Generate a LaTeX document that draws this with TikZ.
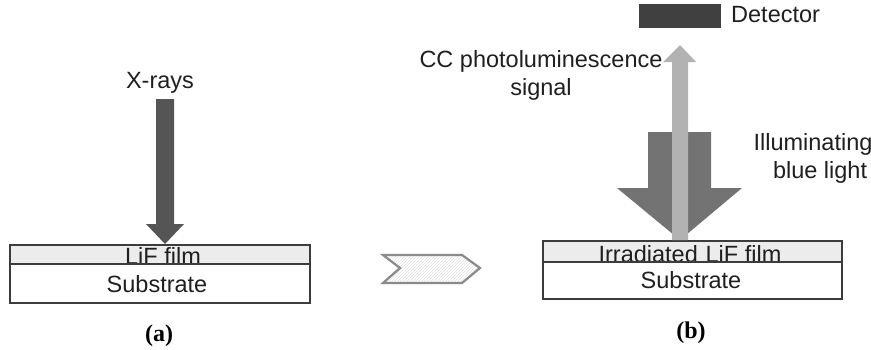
\documentclass[tikz,border=0pt]{standalone}
\usepackage{fontspec}
\setmainfont{Liberation Sans}
\newfontfamily\capfont{Liberation Serif}
\usetikzlibrary{patterns}
\definecolor{filmgray}{HTML}{ECECEC}
\definecolor{edgegray}{HTML}{3C3C3C}
\definecolor{xraygray}{HTML}{555555}
\definecolor{lightbeam}{HTML}{B2B2B2}
\definecolor{bluebeam}{HTML}{737373}
\definecolor{detgray}{HTML}{404040}
\definecolor{chevgray}{HTML}{8A8A8A}
\tikzset{
  lbl/.style={inner sep=0pt, anchor=base, font=\fontsize{23.5}{28}\selectfont, text=black!88},
  caplbl/.style={inner sep=0pt, anchor=base, font=\capfont\bfseries\fontsize{24}{26}\selectfont},
  layer/.style={draw=edgegray, line width=1.4pt},
  interface/.style={draw=edgegray, line width=2.6pt},
}
\begin{document}
\begin{tikzpicture}[x=1pt, y=-1pt]
\useasboundingbox (0,0) rectangle (871,349);

% ---------- (a) exposure ----------
\fill[filmgray] (10,245) rectangle (310,264);
\node[lbl] (filmA) at (163,264) {LiF film};
\node[lbl] (subA) at (157,292) {Substrate};
\draw[layer] (10,245) rectangle (310,303);
\draw[interface] (10,264) -- (310,264);

\node[lbl] (xray) at (160,88) {X-rays};
\fill[xraygray] (156,99) -- (174,99) -- (174,224) -- (184,224) -- (165,244)
  -- (146,224) -- (156,224) -- cycle;

\node[caplbl] (capA) at (159,341) {(a)};

% ---------- transition chevron ----------
\coordinate (chev) at (430,268);
\fill[pattern=north east lines, pattern color=black!12]
  (383,255) -- (462,255) -- (480,268) -- (462,283) -- (383,283) -- (400,268) -- cycle;
\draw[chevgray, line width=2.2pt, line join=miter]
  (383,255) -- (462,255) -- (480,268) -- (462,283) -- (383,283) -- (400,268) -- cycle;

% ---------- (b) readout ----------
\fill[filmgray] (543,241) rectangle (842,262);
\node[lbl] (filmB) at (690,262) {Irradiated\,\,LiF film};
\node[lbl] (subB) at (691,288) {Substrate};
\draw[layer] (543,241) rectangle (842,299);
\draw[interface] (543,262) -- (842,262);

% illuminating beam
\fill[bluebeam] (648,132) -- (711,132) -- (711,188) -- (742,188) -- (680,240)
  -- (617,188) -- (648,188) -- cycle;
% emitted signal
\fill[lightbeam] (672,240) -- (688,240) -- (688,62) -- (696,62) -- (680,45)
  -- (663,62) -- (672,62) -- cycle;

% detector
\fill[detgray] (639,4) rectangle (721,28);
\node[lbl, anchor=base west] (det) at (731,22) {Detector};

\node[lbl, align=center, anchor=base] (sig) at (541,95)
  {CC photoluminescence\\signal};
\node[lbl, align=center, anchor=base] (illum) at (813,178)
  {Illuminating\\\hspace*{0.6em}blue light};

\node[caplbl] (capB) at (691,338) {(b)};
\end{tikzpicture}
\end{document}
